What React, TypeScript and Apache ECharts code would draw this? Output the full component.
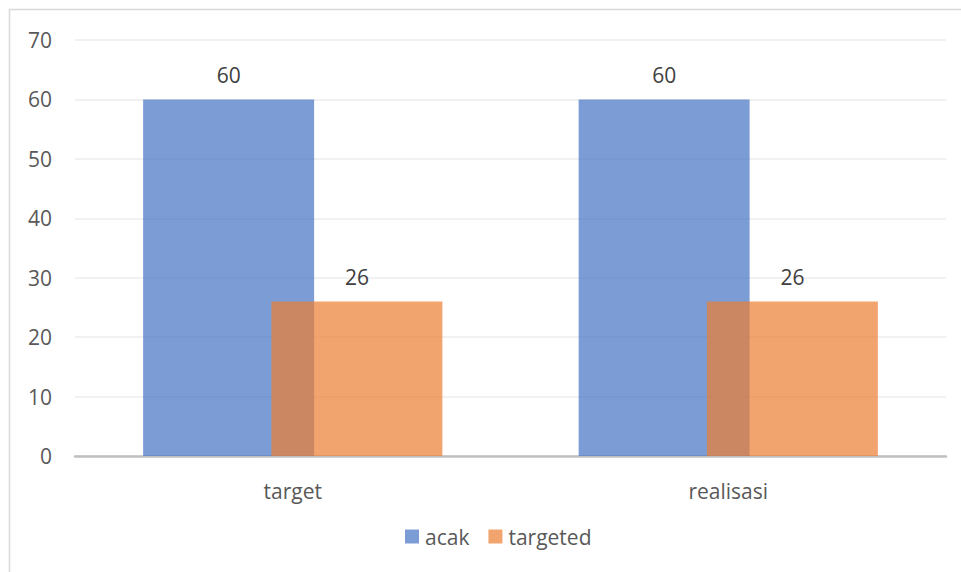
import React, { useEffect, useRef } from "react";
import * as echarts from "echarts";

const categories = ["target", "realisasi"];
const acakValues = [60, 60];
const targetedValues = [26, 26];
const yTicks = { min: 0, max: 70, interval: 10 };

export default function App() {
  const ref = useRef<HTMLDivElement>(null);
  useEffect(() => {
    document.body.style.margin = "0";
    const chart = echarts.init(ref.current!, null, { renderer: "svg" });
    const font = "'Open Sans', 'Liberation Sans', sans-serif";
    const labelStyle = {
      show: true,
      position: "top",
      distance: 14,
      color: "#404040",
      fontSize: 21,
      fontFamily: font,
      opacity: 1,
    };
    chart.setOption({
      animation: false,
      backgroundColor: "#ffffff",
      grid: { left: 75, right: 15, top: 40, bottom: 116, containLabel: false },
      graphic: [
        {
          type: "polyline",
          shape: { points: [[9.5, 572], [9.5, 9.5], [961, 9.5]] },
          style: { stroke: "#D9D9D9", lineWidth: 1.5, fill: null },
          silent: true,
        },
      ],
      legend: {
        bottom: 20,
        left: 400,
        itemWidth: 14,
        itemHeight: 14,
        itemGap: 19,
        icon: "rect",
        textStyle: { color: "#595959", fontSize: 21, fontFamily: font, padding: [0, 0, 0, 1] },
        data: ["acak", "targeted"],
      },
      xAxis: {
        type: "category",
        data: categories,
        axisLine: { lineStyle: { color: "#BFBFBF", width: 2.5 } },
        axisTick: { show: false },
        axisLabel: { color: "#595959", fontSize: 21, fontFamily: font, margin: 24 },
      },
      yAxis: {
        type: "value",
        min: yTicks.min,
        max: yTicks.max,
        interval: yTicks.interval,
        axisLine: { show: false },
        axisTick: { show: false },
        splitLine: { lineStyle: { color: "#EDEDED", width: 1.5 } },
        axisLabel: { color: "#595959", fontSize: 21, fontFamily: font, margin: 23 },
      },
      series: [
        {
          name: "acak",
          type: "bar",
          data: acakValues,
          barWidth: 171,
          barGap: "-25%",
          itemStyle: { color: "#4472C4", opacity: 0.7 },
          label: labelStyle,
        },
        {
          name: "targeted",
          type: "bar",
          data: targetedValues,
          barWidth: 171,
          itemStyle: { color: "#ED7D31", opacity: 0.7 },
          label: labelStyle,
        },
      ],
    });
    return () => chart.dispose();
  }, []);
  return <div ref={ref} style={{ width: 961, height: 572 }} />;
}
